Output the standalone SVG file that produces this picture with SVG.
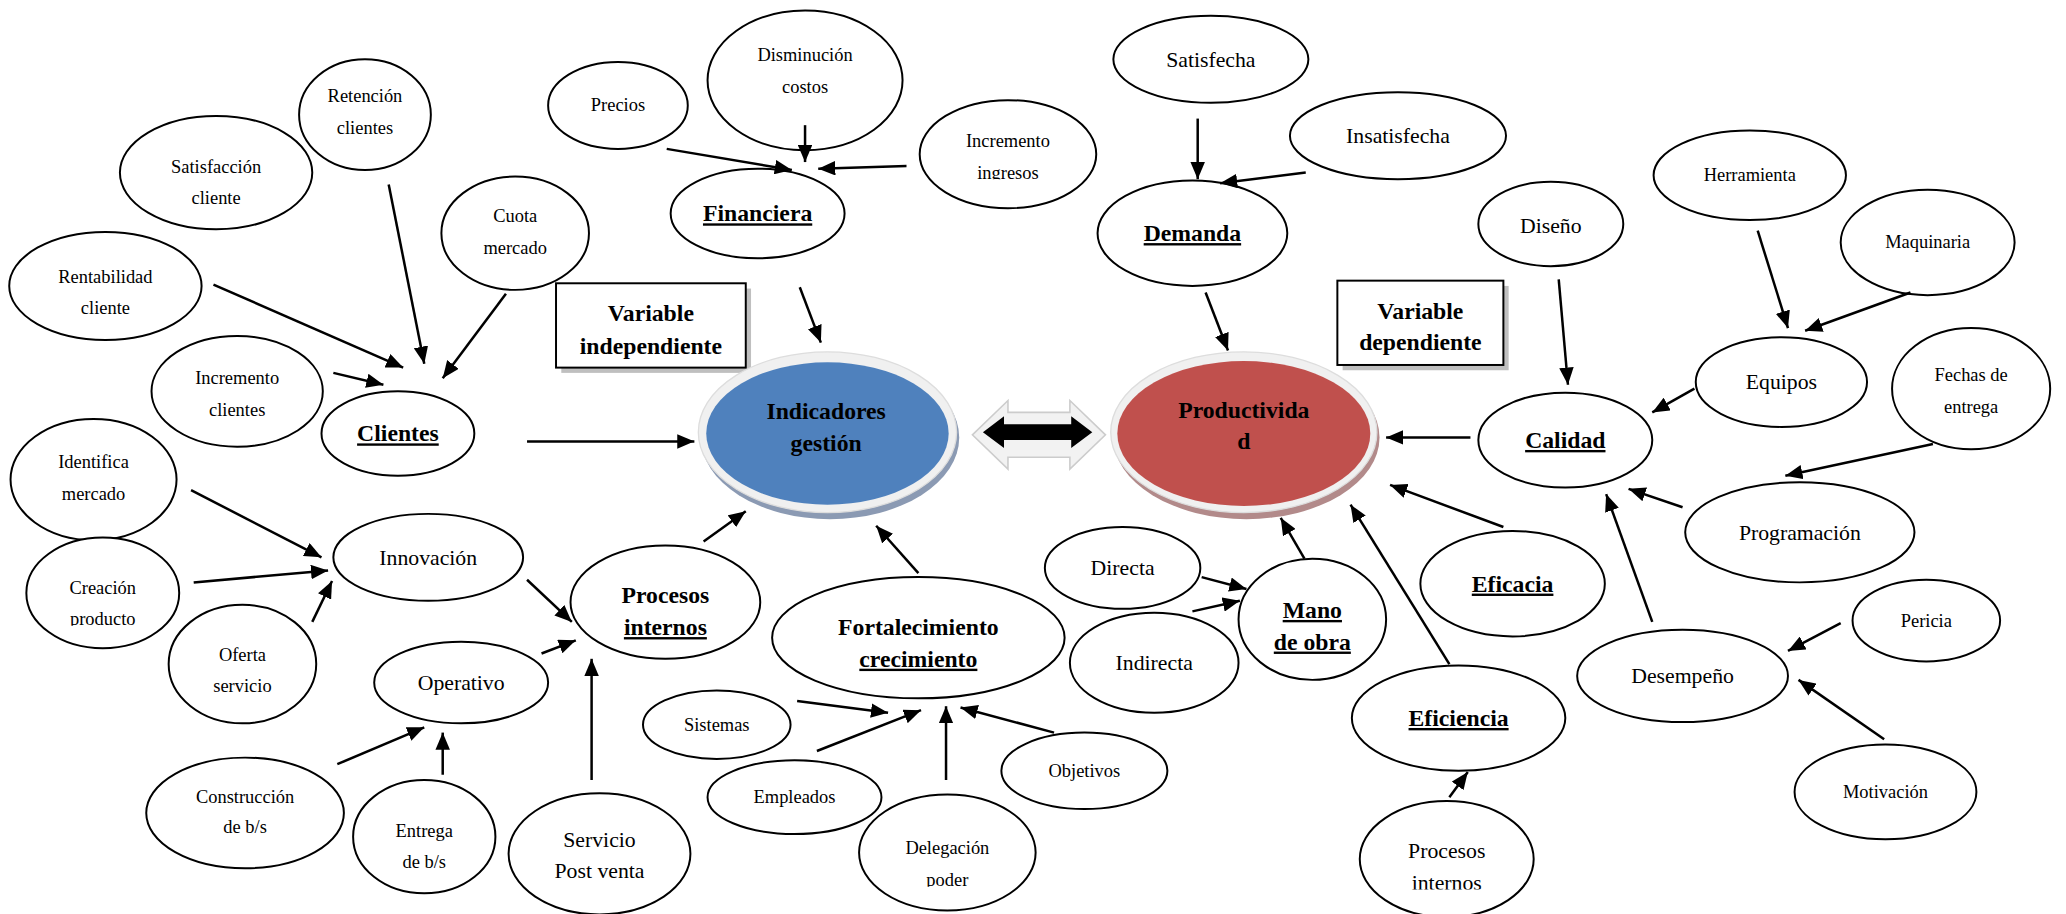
<svg xmlns="http://www.w3.org/2000/svg" width="2066" height="914" viewBox="0 0 2066 914">
  <defs>
    <style>
      .n ellipse { fill: #ffffff; stroke: #000000; stroke-width: 1.5; }
      text { font-family: "Liberation Serif", "Times New Roman", serif; fill: #000000; text-anchor: middle; }
      .s { font-size: 14px; }
      .m { font-size: 16.5px; }
      .b { font-size: 18px; font-weight: bold; }
      .u { text-decoration: underline; text-decoration-thickness: 1.6px; }
      #connectors line { stroke: #000000; stroke-width: 1.9; marker-end: url(#head); }
      .box rect.frame { fill: #ffffff; stroke: #000000; stroke-width: 1.5; }
      .box rect.shade { fill: #bfbfbf; }
      .ring { fill: #f0f0f0; stroke: #dddddd; stroke-width: 1; }
    </style>
    <marker id="head" markerUnits="userSpaceOnUse" markerWidth="13" markerHeight="11" refX="13" refY="5.5" orient="auto">
      <path d="M0,0 L13,5.5 L0,11 z" fill="#000000"/>
    </marker>
    <clipPath id="clipProducto" clipPathUnits="userSpaceOnUse"><rect x="0" y="430" width="200" height="45"/></clipPath>
    <clipPath id="clipIngresos" clipPathUnits="userSpaceOnUse"><rect x="680" y="90" width="170" height="46"/></clipPath>
    <clipPath id="clipPoder" clipPathUnits="userSpaceOnUse"><rect x="640" y="620" width="160" height="53"/></clipPath>
    <clipPath id="clipInternos" clipPathUnits="userSpaceOnUse"><rect x="1020" y="620" width="160" height="55"/></clipPath>
  </defs>

  <rect x="0" y="0" width="2066" height="914" fill="#ffffff"/>

  <g transform="scale(1.3176)">
    <!-- left branch: clients -->
    <g id="n_rentabilidad" class="n"><ellipse cx="80" cy="217" rx="73" ry="41"/><text class="s" x="80" y="214.5">Rentabilidad</text><text class="s" x="80" y="238.5">cliente</text></g>
    <g id="n_satisfaccion" class="n"><ellipse cx="164" cy="131" rx="73" ry="43"/><text class="s" x="164" y="131.5">Satisfacción</text><text class="s" x="164" y="154.5">cliente</text></g>
    <g id="n_retencion" class="n"><ellipse cx="277" cy="87" rx="50" ry="42"/><text class="s" x="277" y="77.5">Retención</text><text class="s" x="277" y="101.5">clientes</text></g>
    <g id="n_cuota" class="n"><ellipse cx="391" cy="177" rx="56" ry="43"/><text class="s" x="391" y="168.5">Cuota</text><text class="s" x="391" y="192.5">mercado</text></g>
    <g id="n_incremento_clientes" class="n"><ellipse cx="180" cy="297" rx="65" ry="42"/><text class="s" x="180" y="291.5">Incremento</text><text class="s" x="180" y="315.5">clientes</text></g>
    <g id="n_clientes" class="n"><ellipse cx="302" cy="329" rx="58" ry="32"/><text class="b u" x="302" y="335">Clientes</text></g>

    <!-- left branch: internal processes -->
    <g id="n_identifica" class="n"><ellipse cx="71" cy="364" rx="63" ry="46"/><text class="s" x="71" y="355.5">Identifica</text><text class="s" x="71" y="379.5">mercado</text></g>
    <g id="n_creacion" class="n"><ellipse cx="78" cy="450" rx="58" ry="42"/><text class="s" x="78" y="450.5">Creación</text><g clip-path="url(#clipProducto)"><text class="s" x="78" y="474.5">producto</text></g></g>
    <g id="n_innovacion" class="n"><ellipse cx="325" cy="423" rx="72" ry="33"/><text class="m" x="325" y="428.5">Innovación</text></g>
    <g id="n_oferta" class="n"><ellipse cx="184" cy="504" rx="56" ry="45"/><text class="s" x="184" y="501.5">Oferta</text><text class="s" x="184" y="525.5">servicio</text></g>
    <g id="n_operativo" class="n"><ellipse cx="350" cy="518" rx="66" ry="31"/><text class="m" x="350" y="523.5">Operativo</text></g>
    <g id="n_procesos" class="n"><ellipse cx="505" cy="457" rx="72" ry="43"/><text class="b" x="505" y="458">Procesos</text><text class="b u" x="505" y="482">internos</text></g>
    <g id="n_construccion" class="n"><ellipse cx="186" cy="617" rx="75" ry="42"/><text class="s" x="186" y="609.5">Construcción</text><text class="s" x="186" y="632.5">de b/s</text></g>
    <g id="n_entrega" class="n"><ellipse cx="322" cy="635" rx="54" ry="43"/><text class="s" x="322" y="635.5">Entrega</text><text class="s" x="322" y="658.5">de b/s</text></g>
    <g id="n_servicio" class="n"><ellipse cx="455" cy="648" rx="69" ry="46"/><text class="m" x="455" y="642.5">Servicio</text><text class="m" x="455" y="666.5">Post venta</text></g>

    <!-- financial branch -->
    <g id="n_precios" class="n"><ellipse cx="469" cy="80" rx="53" ry="33"/><text class="s" x="469" y="84.5">Precios</text></g>
    <g id="n_disminucion" class="n"><ellipse cx="611" cy="61" rx="74" ry="53"/><text class="s" x="611" y="46.5">Disminución</text><text class="s" x="611" y="70.5">costos</text></g>
    <g id="n_incremento_ingresos" class="n"><ellipse cx="765" cy="117" rx="67" ry="41"/><text class="s" x="765" y="111.5">Incremento</text><g clip-path="url(#clipIngresos)"><text class="s" x="765" y="135.5">ingresos</text></g></g>
    <g id="n_financiera" class="n"><ellipse cx="575" cy="162" rx="66" ry="34"/><text class="b u" x="575" y="168">Financiera</text></g>

    <!-- growth branch -->
    <g id="n_fortalecimiento" class="n"><ellipse cx="697" cy="484" rx="111" ry="46"/><text class="b" x="697" y="482">Fortalecimiento</text><text class="b u" x="697" y="506">crecimiento</text></g>
    <g id="n_sistemas" class="n"><ellipse cx="544" cy="550" rx="56" ry="26"/><text class="s" x="544" y="554.5">Sistemas</text></g>
    <g id="n_empleados" class="n"><ellipse cx="603" cy="605" rx="66" ry="28"/><text class="s" x="603" y="609.5">Empleados</text></g>
    <g id="n_objetivos" class="n"><ellipse cx="823" cy="585" rx="63" ry="29"/><text class="s" x="823" y="589.5">Objetivos</text></g>
    <g id="n_delegacion" class="n"><ellipse cx="719" cy="647" rx="67" ry="44"/><text class="s" x="719" y="648.5">Delegación</text><g clip-path="url(#clipPoder)"><text class="s" x="719" y="672.5">poder</text></g></g>

    <!-- labelled boxes -->
    <g id="n_var_independiente" class="box"><rect class="shade" x="426" y="219" width="144" height="64"/><rect class="frame" x="422" y="215" width="144" height="64"/><text class="b" x="494" y="244">Variable</text><text class="b" x="494" y="269">independiente</text></g>
    <g id="n_var_dependiente" class="box"><rect class="shade" x="1019" y="217" width="126" height="64"/><rect class="frame" x="1015" y="213" width="126" height="64"/><text class="b" x="1078" y="242">Variable</text><text class="b" x="1078" y="266">dependiente</text></g>

    <!-- central variables -->
    <g id="n_indicadores">
      <ellipse cx="630" cy="332" rx="98" ry="62" fill="#8b9ab3"/>
      <ellipse class="ring" cx="628" cy="328" rx="98" ry="61"/>
      <ellipse cx="628" cy="329" rx="92" ry="54" fill="#4f81bd"/>
      <text class="b" x="627" y="318">Indicadores</text><text class="b" x="627" y="342">gestión</text>
    </g>
    <g id="n_productividad">
      <ellipse cx="946" cy="332" rx="101" ry="62" fill="#b28a8a"/>
      <ellipse class="ring" cx="944" cy="328" rx="101" ry="61"/>
      <ellipse cx="944" cy="329" rx="96" ry="55" fill="#c0504d"/>
      <text class="b" x="944" y="317">Productivida</text><text class="b" x="944" y="341">d</text>
    </g>
    <g id="n_relacion">
      <path d="M738,330 L765,304 L765,313 L812,313 L812,304 L839,330 L812,356 L812,347 L765,347 L765,356 Z" fill="#f2f2f2" stroke="#cccccc" stroke-width="1.2"/>
      <path d="M746,328 L762,316 L762,322 L813,322 L813,316 L829,328 L813,340 L813,334 L762,334 L762,340 Z" fill="#000000"/>
    </g>

    <!-- demand branch -->
    <g id="n_satisfecha" class="n"><ellipse cx="919" cy="45" rx="74" ry="33"/><text class="m" x="919" y="50.5">Satisfecha</text></g>
    <g id="n_insatisfecha" class="n"><ellipse cx="1061" cy="103" rx="82" ry="33"/><text class="m" x="1061" y="108.5">Insatisfecha</text></g>
    <g id="n_demanda" class="n"><ellipse cx="905" cy="177" rx="72" ry="40"/><text class="b u" x="905" y="183">Demanda</text></g>

    <!-- quality branch -->
    <g id="n_diseno" class="n"><ellipse cx="1177" cy="170" rx="55" ry="32"/><text class="m" x="1177" y="176.5">Diseño</text></g>
    <g id="n_herramienta" class="n"><ellipse cx="1328" cy="133" rx="73" ry="34"/><text class="s" x="1328" y="137.5">Herramienta</text></g>
    <g id="n_maquinaria" class="n"><ellipse cx="1463" cy="184" rx="66" ry="40"/><text class="s" x="1463" y="188.5">Maquinaria</text></g>
    <g id="n_equipos" class="n"><ellipse cx="1352" cy="290" rx="65" ry="34"/><text class="m" x="1352" y="295.5">Equipos</text></g>
    <g id="n_fechas" class="n"><ellipse cx="1496" cy="295" rx="60" ry="46"/><text class="s" x="1496" y="289.5">Fechas de</text><text class="s" x="1496" y="313.5">entrega</text></g>
    <g id="n_calidad" class="n"><ellipse cx="1188" cy="334" rx="66" ry="36"/><text class="b u" x="1188" y="340">Calidad</text></g>
    <g id="n_programacion" class="n"><ellipse cx="1366" cy="404" rx="87" ry="38"/><text class="m" x="1366" y="409.5">Programación</text></g>
    <g id="n_desempeno" class="n"><ellipse cx="1277" cy="513" rx="80" ry="35"/><text class="m" x="1277" y="518.5">Desempeño</text></g>
    <g id="n_pericia" class="n"><ellipse cx="1462" cy="471" rx="56" ry="31"/><text class="s" x="1462" y="475.5">Pericia</text></g>
    <g id="n_motivacion" class="n"><ellipse cx="1431" cy="601" rx="69" ry="36"/><text class="s" x="1431" y="605.5">Motivación</text></g>

    <!-- labour, efficacy and efficiency -->
    <g id="n_eficacia" class="n"><ellipse cx="1148" cy="443" rx="70" ry="40"/><text class="b u" x="1148" y="449">Eficacia</text></g>
    <g id="n_directa" class="n"><ellipse cx="852" cy="431" rx="59" ry="31"/><text class="m" x="852" y="436.5">Directa</text></g>
    <g id="n_mano_obra" class="n"><ellipse cx="996" cy="470" rx="56" ry="46"/><text class="b u" x="996" y="469">Mano</text><text class="b u" x="996" y="493">de obra</text></g>
    <g id="n_indirecta" class="n"><ellipse cx="876" cy="503" rx="64" ry="38"/><text class="m" x="876" y="508.5">Indirecta</text></g>
    <g id="n_eficiencia" class="n"><ellipse cx="1107" cy="545" rx="81" ry="40"/><text class="b u" x="1107" y="551">Eficiencia</text></g>
    <g id="n_procesos_internos_2" class="n"><ellipse cx="1098" cy="652" rx="66" ry="44"/><text class="m" x="1098" y="651.5">Procesos</text><g clip-path="url(#clipInternos)"><text class="m" x="1098" y="675.5">internos</text></g></g>

    <!-- connectors -->
    <g id="connectors">
      <line x1="162" y1="216" x2="306" y2="279"/>
      <line x1="295" y1="140" x2="322" y2="276"/>
      <line x1="384" y1="223" x2="336" y2="287"/>
      <line x1="253" y1="283" x2="291" y2="292"/>
      <line x1="400" y1="335" x2="527" y2="335"/>
      <line x1="145" y1="372" x2="244" y2="423"/>
      <line x1="147" y1="442" x2="249" y2="433"/>
      <line x1="237" y1="472" x2="252" y2="441"/>
      <line x1="400" y1="440" x2="434" y2="472"/>
      <line x1="411" y1="496" x2="437" y2="486"/>
      <line x1="256" y1="580" x2="322" y2="552"/>
      <line x1="336" y1="588" x2="336" y2="556"/>
      <line x1="449" y1="592" x2="449" y2="500"/>
      <line x1="534" y1="411" x2="566" y2="388"/>
      <line x1="697" y1="435" x2="665" y2="399"/>
      <line x1="506" y1="113" x2="601" y2="129"/>
      <line x1="611" y1="95" x2="611" y2="123"/>
      <line x1="688" y1="126" x2="621" y2="128"/>
      <line x1="607" y1="218" x2="623" y2="260"/>
      <line x1="605" y1="532" x2="674" y2="541"/>
      <line x1="620" y1="570" x2="699" y2="539"/>
      <line x1="718" y1="592" x2="718" y2="536"/>
      <line x1="800" y1="556" x2="729" y2="537"/>
      <line x1="909" y1="90" x2="909" y2="136"/>
      <line x1="991" y1="131" x2="926" y2="139"/>
      <line x1="915" y1="222" x2="932" y2="266"/>
      <line x1="1116" y1="332" x2="1052" y2="332"/>
      <line x1="1183" y1="212" x2="1190" y2="292"/>
      <line x1="1334" y1="175" x2="1357" y2="249"/>
      <line x1="1450" y1="222" x2="1370" y2="251"/>
      <line x1="1286" y1="295" x2="1254" y2="313"/>
      <line x1="1467" y1="337" x2="1355" y2="361"/>
      <line x1="1277" y1="385" x2="1236" y2="371"/>
      <line x1="1254" y1="472" x2="1219" y2="375"/>
      <line x1="1141" y1="400" x2="1055" y2="368"/>
      <line x1="1100" y1="504" x2="1025" y2="383"/>
      <line x1="990" y1="424" x2="972" y2="393"/>
      <line x1="912" y1="438" x2="946" y2="447"/>
      <line x1="905" y1="464" x2="941" y2="456"/>
      <line x1="1397" y1="473" x2="1357" y2="494"/>
      <line x1="1430" y1="561" x2="1365" y2="516"/>
      <line x1="1100" y1="605" x2="1114" y2="586"/>
    </g>
  </g>
</svg>
